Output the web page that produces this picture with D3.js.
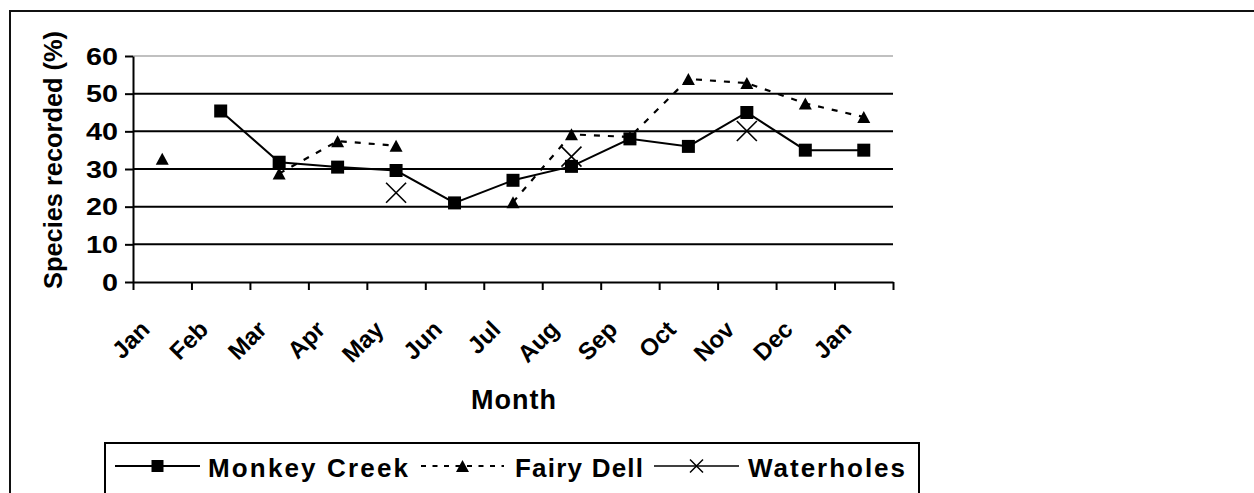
<!DOCTYPE html>
<html>
<head>
<meta charset="utf-8">
<script src="https://cdn.jsdelivr.net/npm/d3@7"></script>
<style>
  html, body { margin: 0; padding: 0; background: #fff; }
  svg { display: block; }
  text { font-family: "Liberation Sans", Arial, sans-serif; font-weight: bold; fill: #000; }
</style>
</head>
<body>
<svg id="chart" width="1254" height="493"></svg>
<script>
const months = ["Jan","Feb","Mar","Apr","May","Jun","Jul","Aug","Sep","Oct","Nov","Dec","Jan"];
const monkeyCreek = [null,45.4,31.8,30.5,29.6,21.0,27.0,30.7,38.0,36.0,45.0,35.0,35.0];
const fairyDell  = [32.7,null,28.8,37.4,36.2,null,21.2,39.2,38.5,53.9,52.8,47.4,43.8];
const waterholes = [null,null,null,null,23.7,null,null,33.3,null,null,40.1,null,null];
const yTicks = [0,10,20,30,40,50,60];
const seriesNames = ["Monkey Creek","Fairy Dell","Waterholes"];

const svg = d3.select("#chart");
const L = 133, R = 893, T = 56, B = 282;

const x = d3.scaleLinear().domain([0, months.length]).range([L, R]);
const y = d3.scaleLinear().domain([0, 60]).range([B, T]);

// outer frame
svg.append("rect").attr("x", 10).attr("y", 11).attr("width", 1400).attr("height", 700)
  .attr("fill", "none").attr("stroke", "#111").attr("stroke-width", 2);

// gridlines
svg.append("g").selectAll("line").data(yTicks.filter(d => d > 0)).join("line")
  .attr("x1", L).attr("x2", R)
  .attr("y1", d => y(d)).attr("y2", d => y(d))
  .attr("stroke", d => d === 60 ? "#c0c0c0" : "#000")
  .attr("stroke-width", 2);

// y axis
const yAxis = svg.append("g").attr("transform", `translate(${L},0)`)
  .call(d3.axisLeft(y).tickValues(yTicks).tickSize(8).tickPadding(7).tickSizeOuter(0));
yAxis.select(".domain").attr("stroke", "#000").attr("stroke-width", 2);
yAxis.selectAll(".tick line").attr("stroke", "#000").attr("stroke-width", 2);
yAxis.selectAll(".tick text")
  .attr("font-size", 23).attr("font-family", "Liberation Sans, Arial, sans-serif")
  .attr("font-weight", "bold").attr("dy", "0.36em").attr("fill", "#000")
  .attr("textLength", d => String(d).length * 16).attr("lengthAdjust", "spacingAndGlyphs");

// x axis (ticks at category boundaries)
const xAxis = svg.append("g").attr("transform", `translate(0,${B})`)
  .call(d3.axisBottom(x).tickValues(d3.range(0, months.length + 1)).tickSize(8).tickFormat("").tickSizeOuter(0));
xAxis.select(".domain").attr("stroke", "#000").attr("stroke-width", 2);
xAxis.selectAll(".tick line").attr("stroke", "#000").attr("stroke-width", 2);

// x labels
svg.append("g").selectAll("text").data(months).join("text")
  .attr("text-anchor", "end")
  .attr("font-size", 24)
  .attr("transform", (d, i) => `translate(${x(i + 0.5) - 11},${B + 49}) rotate(-45)`)
  .text(d => d);

// axis titles
svg.append("text").attr("text-anchor", "middle").attr("font-size", 27)
  .attr("letter-spacing", 1)
  .attr("transform", `translate(${(L + R) / 2 + 1},${409})`).text("Month");
svg.append("text").attr("text-anchor", "middle").attr("font-size", 26)
  .attr("textLength", 258).attr("lengthAdjust", "spacingAndGlyphs")
  .attr("transform", `translate(${62},${160}) rotate(-90)`).text("Species recorded (%)");

// marker paths
function squarePath(s) { const h = s / 2; return `M${-h},${-h}H${h}V${h}H${-h}Z`; }
function trianglePath(w, hgt) { return `M0,${-hgt/2}L${w/2},${hgt/2}L${-w/2},${hgt/2}Z`; }
function crossPath(s) { const h = s / 2; return `M${-h},${-h}L${h},${h}M${h},${-h}L${-h},${h}`; }

const cx = i => x(i + 0.5);
const line = d3.line().defined(d => d != null).x((d, i) => cx(i)).y(d => y(d));

// Monkey Creek
svg.append("path").datum(monkeyCreek).attr("d", line)
  .attr("fill", "none").attr("stroke", "#000").attr("stroke-width", 2);
// Fairy Dell
svg.append("path").datum(fairyDell).attr("d", line)
  .attr("fill", "none").attr("stroke", "#000").attr("stroke-width", 2.2).attr("stroke-dasharray", "6,8");
// Waterholes
svg.append("path").datum(waterholes).attr("d", line)
  .attr("fill", "none").attr("stroke", "#000").attr("stroke-width", 1.5);

const idx = arr => arr.map((v, i) => ({ v, i })).filter(d => d.v != null);

svg.append("g").selectAll("path").data(idx(fairyDell)).join("path")
  .attr("d", trianglePath(13, 12)).attr("fill", "#000")
  .attr("transform", d => `translate(${cx(d.i)},${y(d.v)})`);
svg.append("g").selectAll("path").data(idx(monkeyCreek)).join("path")
  .attr("d", squarePath(13)).attr("fill", "#000")
  .attr("transform", d => `translate(${cx(d.i)},${y(d.v)})`);
svg.append("g").selectAll("path").data(idx(waterholes)).join("path")
  .attr("d", crossPath(20)).attr("fill", "none").attr("stroke", "#000").attr("stroke-width", 1.6)
  .attr("transform", d => `translate(${cx(d.i)},${y(d.v)})`);

// legend
const lg = svg.append("g");
lg.append("rect").attr("x", 105).attr("y", 443).attr("width", 814).attr("height", 60)
  .attr("fill", "#fff").attr("stroke", "#000").attr("stroke-width", 2);
const ly = 466;
const legendItems = [
  { name: seriesNames[0], x1: 115, x2: 200, tx: 208, w: 200, dash: null, sw: 2, marker: "sq" },
  { name: seriesNames[1], x1: 421, x2: 504, tx: 515, w: 128, dash: "5,6.5", sw: 2.2, marker: "tri" },
  { name: seriesNames[2], x1: 654, x2: 739, tx: 748, w: 157, dash: null, sw: 1.5, marker: "x" }
];
legendItems.forEach(it => {
  const mx = (it.x1 + it.x2) / 2;
  lg.append("line").attr("x1", it.x1).attr("x2", it.x2).attr("y1", ly).attr("y2", ly)
    .attr("stroke", "#000").attr("stroke-width", it.sw).attr("stroke-dasharray", it.dash);
  if (it.marker === "sq") lg.append("path").attr("d", squarePath(12)).attr("fill", "#000").attr("transform", `translate(${mx},${ly})`);
  if (it.marker === "tri") lg.append("path").attr("d", trianglePath(13, 12)).attr("fill", "#000").attr("transform", `translate(${mx},${ly})`);
  if (it.marker === "x") lg.append("path").attr("d", crossPath(13)).attr("fill", "none").attr("stroke", "#000").attr("stroke-width", 1.5).attr("transform", `translate(${mx},${ly})`);
  lg.append("text").attr("x", it.tx).attr("y", 477).attr("font-size", 26)
    .attr("textLength", it.w).attr("lengthAdjust", "spacing").text(it.name);
});
</script>
</body>
</html>
